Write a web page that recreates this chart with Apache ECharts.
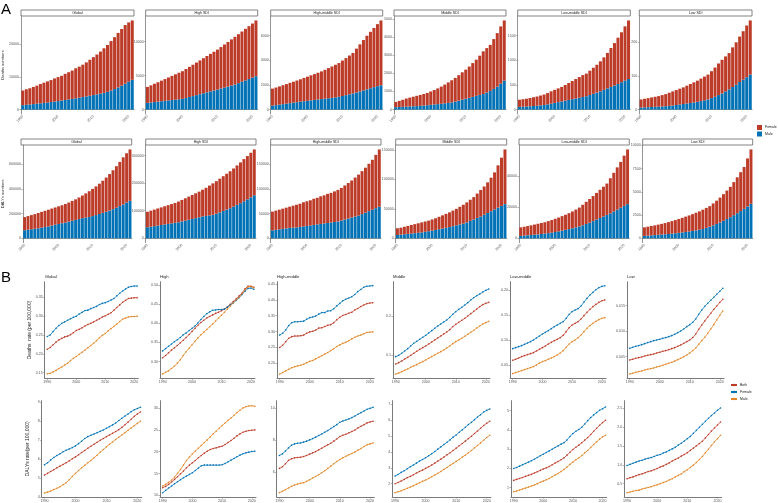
<!DOCTYPE html>
<html>
<head>
<meta charset="utf-8">
<script src="https://cdn.jsdelivr.net/npm/echarts@6/dist/echarts.min.js"></script>
<style>html,body{margin:0;padding:0;background:#fff}#main{width:778px;height:503px}</style>
</head>
<body>
<div id="main"></div>
<script>
var years = [1990, 1991, 1992, 1993, 1994, 1995, 1996, 1997, 1998, 1999, 2000, 2001, 2002, 2003, 2004, 2005,
  2006, 2007, 2008, 2009, 2010, 2011, 2012, 2013, 2014, 2015, 2016, 2017, 2018, 2019, 2020, 2021];
var regionsA = ['Global', 'High SDI', 'High-middle SDI', 'Middle SDI', 'Low-middle SDI', 'Low SDI'];
var regionsB = ['Global', 'High', 'High-middle', 'Middle', 'Low-middle', 'Low'];

// --- A: deaths numbers (total = top of the stack, male = blue part) ---
var deathsGlobalTotal = [5800, 6200, 6500, 6900, 7300, 7800, 8200, 8600, 9000, 9500, 9900, 10300, 10900, 11400, 11900, 12600, 13100, 13700, 14400, 15200, 16000, 16800, 17700, 18700, 19700, 20900, 22100, 23400, 24600, 25800, 26600, 27200];
var deathsGlobalMale = [1330, 1440, 1550, 1660, 1780, 1900, 2030, 2160, 2300, 2440, 2590, 2750, 2910, 3080, 3250, 3430, 3620, 3810, 4010, 4210, 4420, 4640, 4860, 5090, 5400, 5800, 6250, 6750, 7300, 7900, 8500, 9080];
var deathsHighTotal = [3330, 3560, 3790, 4020, 4250, 4480, 4720, 4950, 5180, 5410, 5640, 5960, 6280, 6590, 6910, 7230, 7550, 7870, 8190, 8500, 8820, 9190, 9570, 9940, 10320, 10690, 11080, 11470, 11870, 12260, 12650, 13100];
var deathsHighMale = [980, 1040, 1100, 1160, 1220, 1280, 1340, 1400, 1450, 1510, 1570, 1710, 1850, 1980, 2120, 2260, 2390, 2530, 2670, 2800, 2940, 3090, 3240, 3380, 3530, 3680, 3880, 4090, 4290, 4490, 4700, 4900];
var deathsHMTotal = [1700, 1790, 1880, 1980, 2070, 2170, 2260, 2360, 2460, 2570, 2670, 2780, 2880, 2990, 3100, 3230, 3370, 3500, 3640, 3780, 3980, 4180, 4390, 4600, 4950, 5300, 5650, 6000, 6320, 6630, 6940, 7240];
var deathsHMMale = [320, 360, 400, 440, 480, 520, 560, 600, 640, 680, 710, 750, 780, 820, 850, 880, 920, 950, 990, 1030, 1100, 1170, 1240, 1310, 1390, 1470, 1550, 1640, 1730, 1820, 1900, 1970];
var deathsMidTotal = [420, 480, 540, 610, 660, 710, 760, 810, 860, 920, 1000, 1080, 1170, 1270, 1380, 1500, 1620, 1750, 1900, 2060, 2210, 2380, 2570, 2760, 2980, 3220, 3400, 3580, 3900, 4230, 4600, 4930];
var deathsMidMale = [130, 140, 150, 160, 170, 180, 190, 205, 220, 240, 260, 280, 300, 320, 345, 370, 400, 440, 490, 550, 600, 650, 700, 760, 810, 860, 940, 1030, 1140, 1270, 1430, 1600];
var deathsLMTotal = [200, 210, 220, 235, 250, 265, 285, 305, 335, 370, 400, 430, 460, 500, 540, 580, 620, 660, 700, 730, 790, 850, 910, 980, 1060, 1150, 1250, 1350, 1460, 1570, 1690, 1810];
var deathsLMMale = [54, 58, 62, 67, 72, 78, 85, 93, 105, 120, 135, 150, 165, 180, 195, 210, 225, 240, 255, 270, 295, 320, 345, 370, 400, 430, 460, 490, 520, 555, 590, 620];
var deathsLowTotal = [30, 32, 34, 36, 38, 40, 43, 46, 50, 54, 58, 62, 66, 71, 76, 81, 86, 92, 98, 104, 114, 125, 137, 148, 158, 168, 185, 200, 217, 233, 250, 265];
var deathsLowMale = [6, 6.5, 7, 7.5, 8, 8.5, 9, 10, 11, 12, 13.5, 15, 16.5, 18, 19.5, 21, 23, 25, 27.5, 30, 34, 38, 43, 48, 54, 60, 67, 74, 82, 89, 96, 104];

// --- A: DALYs numbers ---
var dalysGlobalTotal = [172000, 180000, 188000, 196000, 205000, 214000, 223000, 232000, 241000, 250000, 259000, 268000, 278000, 290000, 303000, 316000, 331000, 347000, 364000, 382000, 401000, 421000, 443000, 467000, 493000, 521000, 552000, 585000, 620000, 657000, 690000, 721000];
var dalysGlobalMale = [65000, 69000, 73000, 77000, 81000, 86000, 91000, 96000, 103000, 110000, 116000, 122000, 128000, 135000, 142000, 149000, 156000, 163000, 168000, 172000, 180000, 188000, 197000, 206000, 215000, 225000, 236000, 248000, 261000, 275000, 290000, 304000];
var dalysHighTotal = [96000, 100000, 104000, 108000, 112000, 116000, 120000, 124000, 128000, 133000, 139000, 145000, 151000, 157000, 163000, 169000, 176000, 183000, 191000, 199000, 207000, 216000, 225000, 234000, 243000, 253000, 264000, 275000, 287000, 298000, 310000, 322000];
var dalysHighMale = [40000, 42000, 44000, 46000, 48000, 50000, 52000, 54000, 56000, 58000, 61000, 64000, 67000, 70000, 73000, 76000, 79000, 81000, 83000, 85000, 89000, 94000, 99000, 104000, 109000, 115000, 121000, 127000, 134000, 141000, 148000, 156000];
var dalysHMTotal = [54000, 56000, 58000, 60000, 62000, 64000, 66000, 68000, 70000, 73000, 75000, 77000, 80000, 82000, 85000, 87000, 90000, 92000, 95000, 98000, 102000, 107000, 112000, 117000, 123000, 129000, 136000, 143000, 151000, 159000, 169000, 180000];
var dalysHMMale = [16000, 17000, 18000, 19000, 20000, 21000, 21500, 22000, 23000, 24000, 25000, 26000, 27000, 28000, 29000, 30000, 31000, 32000, 33000, 34000, 36000, 38000, 40000, 42000, 44000, 46000, 49000, 52000, 55000, 58000, 61000, 64000];
var dalysMidTotal = [17000, 18000, 19500, 21000, 22500, 24000, 25500, 27000, 28500, 30000, 32000, 34000, 36500, 39000, 41500, 44000, 47000, 50000, 53500, 57000, 61000, 65500, 70000, 76000, 82000, 88000, 95000, 103000, 112000, 124000, 137000, 151000];
var dalysMidMale = [5600, 6200, 6800, 7400, 8000, 8600, 9300, 10000, 11000, 12000, 13000, 14200, 15400, 16600, 17800, 19000, 20500, 22000, 23500, 25000, 27000, 29500, 32000, 34500, 37000, 40000, 43000, 46000, 49000, 52000, 55000, 58000];
var dalysLMTotal = [7000, 7400, 7800, 8300, 8800, 9300, 9800, 10300, 11000, 11700, 12500, 13300, 14200, 15100, 16100, 17200, 18400, 19700, 21500, 23400, 25200, 27100, 29100, 31100, 33100, 35100, 38500, 42000, 45500, 49000, 53000, 57000];
var dalysLMMale = [1500, 1700, 1900, 2100, 2300, 2500, 2750, 3000, 3300, 3600, 4000, 4400, 4900, 5400, 5900, 6400, 7000, 7600, 8300, 9150, 10000, 11000, 12000, 13000, 14000, 15000, 16000, 17200, 18400, 19600, 20800, 21900];
var dalysLowTotal = [1180, 1250, 1320, 1390, 1470, 1550, 1640, 1740, 1850, 1960, 2080, 2200, 2330, 2460, 2600, 2750, 2900, 3080, 3270, 3460, 3750, 4050, 4380, 4750, 5140, 5540, 6050, 6570, 7120, 7680, 8600, 9570];
var dalysLowMale = [250, 280, 310, 340, 370, 400, 430, 460, 500, 540, 580, 630, 680, 730, 790, 850, 920, 1000, 1120, 1250, 1390, 1540, 1700, 1880, 2070, 2270, 2480, 2700, 2930, 3170, 3430, 3710];

var deathsTicks = [[0, 10000, 20000], [0, 5000, 10000], [0, 2000, 4000, 6000], [0, 1000, 2000, 3000, 4000, 5000], [0, 500, 1000, 1500], [0, 100, 200]];
var dalysTicks = [[0, 200000, 400000, 600000], [0, 100000, 200000, 300000], [0, 50000, 100000, 150000], [0, 50000, 100000, 150000], [0, 20000, 40000], [0, 2500, 5000, 7500, 10000]];

// --- B: deaths rate (per 100,000) ---
var drGlobalBoth = [0.212, 0.217, 0.224, 0.231, 0.237, 0.241, 0.245, 0.247, 0.251, 0.256, 0.262, 0.265, 0.269, 0.274, 0.278, 0.281, 0.285, 0.289, 0.293, 0.298, 0.301, 0.305, 0.309, 0.316, 0.323, 0.330, 0.337, 0.342, 0.347, 0.348, 0.349, 0.349];
var drGlobalFemale = [0.246, 0.250, 0.259, 0.268, 0.275, 0.281, 0.285, 0.289, 0.293, 0.297, 0.300, 0.306, 0.310, 0.315, 0.316, 0.320, 0.323, 0.326, 0.331, 0.334, 0.336, 0.339, 0.343, 0.347, 0.354, 0.361, 0.367, 0.372, 0.377, 0.379, 0.380, 0.380];
var drGlobalMale = [0.147, 0.148, 0.152, 0.156, 0.161, 0.165, 0.170, 0.175, 0.182, 0.188, 0.193, 0.199, 0.204, 0.210, 0.216, 0.222, 0.228, 0.235, 0.243, 0.249, 0.254, 0.261, 0.267, 0.273, 0.279, 0.286, 0.292, 0.295, 0.298, 0.299, 0.299, 0.300];
var drHighBoth = [0.310, 0.316, 0.323, 0.330, 0.336, 0.342, 0.349, 0.356, 0.363, 0.371, 0.379, 0.387, 0.395, 0.402, 0.408, 0.414, 0.418, 0.422, 0.426, 0.429, 0.433, 0.437, 0.443, 0.450, 0.457, 0.464, 0.472, 0.479, 0.490, 0.497, 0.497, 0.494];
var drHighFemale = [0.328, 0.334, 0.340, 0.346, 0.352, 0.357, 0.363, 0.370, 0.375, 0.381, 0.387, 0.393, 0.401, 0.410, 0.418, 0.425, 0.430, 0.434, 0.435, 0.436, 0.436, 0.437, 0.442, 0.448, 0.453, 0.460, 0.467, 0.475, 0.484, 0.491, 0.492, 0.489];
var drHighMale = [0.268, 0.272, 0.276, 0.282, 0.288, 0.296, 0.305, 0.316, 0.326, 0.335, 0.344, 0.353, 0.362, 0.370, 0.377, 0.384, 0.391, 0.398, 0.406, 0.414, 0.421, 0.429, 0.437, 0.445, 0.453, 0.461, 0.468, 0.477, 0.487, 0.495, 0.496, 0.493];
var drHMBoth = [0.250, 0.257, 0.268, 0.279, 0.284, 0.286, 0.286, 0.287, 0.289, 0.295, 0.299, 0.301, 0.305, 0.311, 0.312, 0.316, 0.320, 0.322, 0.328, 0.337, 0.345, 0.351, 0.354, 0.358, 0.361, 0.368, 0.373, 0.379, 0.384, 0.388, 0.390, 0.391];
var drHMFemale = [0.289, 0.295, 0.305, 0.319, 0.328, 0.331, 0.331, 0.332, 0.333, 0.339, 0.344, 0.346, 0.349, 0.355, 0.360, 0.360, 0.365, 0.366, 0.372, 0.381, 0.389, 0.397, 0.402, 0.406, 0.410, 0.417, 0.426, 0.433, 0.440, 0.443, 0.444, 0.445];
var drHMMale = [0.166, 0.171, 0.176, 0.181, 0.186, 0.189, 0.192, 0.194, 0.197, 0.202, 0.206, 0.209, 0.214, 0.219, 0.224, 0.229, 0.234, 0.240, 0.246, 0.253, 0.258, 0.263, 0.266, 0.271, 0.277, 0.282, 0.286, 0.289, 0.293, 0.297, 0.298, 0.299];
var drMidBoth = [0.0769, 0.0803, 0.0846, 0.0897, 0.0940, 0.0991, 0.1043, 0.1094, 0.1145, 0.1188, 0.1231, 0.1282, 0.1333, 0.1385, 0.1436, 0.1487, 0.1538, 0.1590, 0.1650, 0.1726, 0.1786, 0.1838, 0.1889, 0.1940, 0.2000, 0.2060, 0.2120, 0.2179, 0.2239, 0.2291, 0.2325, 0.2350];
var drMidFemale = [0.0957, 0.0991, 0.1043, 0.1103, 0.1162, 0.1231, 0.1299, 0.1350, 0.1402, 0.1453, 0.1504, 0.1564, 0.1624, 0.1684, 0.1744, 0.1795, 0.1846, 0.1897, 0.1966, 0.2043, 0.2111, 0.2171, 0.2222, 0.2282, 0.2342, 0.2410, 0.2470, 0.2521, 0.2564, 0.2615, 0.2658, 0.2692];
var drMidMale = [0.0513, 0.0538, 0.0573, 0.0607, 0.0641, 0.0684, 0.0718, 0.0752, 0.0795, 0.0829, 0.0872, 0.0915, 0.0957, 0.1000, 0.1043, 0.1085, 0.1128, 0.1179, 0.1231, 0.1291, 0.1342, 0.1385, 0.1427, 0.1479, 0.1530, 0.1581, 0.1632, 0.1692, 0.1744, 0.1795, 0.1829, 0.1863];
var drLMBoth = [0.0593, 0.0613, 0.0640, 0.0667, 0.0687, 0.0707, 0.0727, 0.0747, 0.0780, 0.0813, 0.0847, 0.0880, 0.0920, 0.0953, 0.0987, 0.1013, 0.1047, 0.1093, 0.1167, 0.1247, 0.1300, 0.1333, 0.1367, 0.1420, 0.1487, 0.1553, 0.1613, 0.1667, 0.1713, 0.1753, 0.1787, 0.1800];
var drLMFemale = [0.0827, 0.0847, 0.0867, 0.0887, 0.0913, 0.0940, 0.0967, 0.1000, 0.1040, 0.1080, 0.1120, 0.1153, 0.1187, 0.1227, 0.1267, 0.1300, 0.1333, 0.1367, 0.1433, 0.1513, 0.1567, 0.1600, 0.1627, 0.1680, 0.1760, 0.1833, 0.1900, 0.1953, 0.2007, 0.2047, 0.2073, 0.2087];
var drLMMale = [0.0327, 0.0347, 0.0367, 0.0387, 0.0407, 0.0427, 0.0447, 0.0467, 0.0500, 0.0540, 0.0567, 0.0587, 0.0613, 0.0640, 0.0667, 0.0700, 0.0740, 0.0787, 0.0853, 0.0920, 0.0967, 0.1000, 0.1047, 0.1100, 0.1167, 0.1233, 0.1287, 0.1333, 0.1373, 0.1407, 0.1433, 0.1447];
var drLowBoth = [0.00435, 0.00448, 0.00467, 0.00480, 0.00493, 0.00513, 0.00526, 0.00539, 0.00552, 0.00572, 0.00585, 0.00605, 0.00618, 0.00637, 0.00657, 0.00676, 0.00703, 0.00729, 0.00761, 0.00794, 0.00827, 0.00873, 0.00944, 0.01036, 0.01121, 0.01199, 0.01278, 0.01350, 0.01428, 0.01493, 0.01565, 0.01624];
var drLowFemale = [0.00663, 0.00683, 0.00703, 0.00716, 0.00735, 0.00755, 0.00775, 0.00794, 0.00814, 0.00827, 0.00840, 0.00859, 0.00873, 0.00892, 0.00912, 0.00938, 0.00971, 0.01003, 0.01042, 0.01088, 0.01127, 0.01173, 0.01239, 0.01330, 0.01415, 0.01487, 0.01546, 0.01605, 0.01663, 0.01722, 0.01781, 0.01840];
var drLowMale = [0.00160, 0.00173, 0.00193, 0.00206, 0.00219, 0.00239, 0.00252, 0.00265, 0.00278, 0.00297, 0.00310, 0.00330, 0.00350, 0.00369, 0.00389, 0.00415, 0.00441, 0.00467, 0.00500, 0.00533, 0.00572, 0.00618, 0.00670, 0.00742, 0.00814, 0.00879, 0.00958, 0.01042, 0.01127, 0.01219, 0.01310, 0.01395];

// --- B: DALYs rate (per 100,000) ---
var yrGlobalBoth = [5.16, 5.25, 5.35, 5.44, 5.54, 5.63, 5.72, 5.81, 5.91, 6.02, 6.12, 6.23, 6.35, 6.46, 6.58, 6.68, 6.79, 6.89, 7.00, 7.09, 7.19, 7.28, 7.37, 7.46, 7.56, 7.68, 7.82, 7.96, 8.11, 8.26, 8.39, 8.49];
var yrGlobalFemale = [5.70, 5.81, 5.95, 6.09, 6.19, 6.28, 6.39, 6.47, 6.54, 6.61, 6.70, 6.82, 6.95, 7.09, 7.19, 7.26, 7.33, 7.40, 7.47, 7.54, 7.63, 7.72, 7.81, 7.91, 8.04, 8.16, 8.28, 8.39, 8.51, 8.61, 8.68, 8.74];
var yrGlobalMale = [4.21, 4.26, 4.32, 4.39, 4.46, 4.54, 4.65, 4.75, 4.91, 5.09, 5.25, 5.40, 5.54, 5.67, 5.81, 5.93, 6.07, 6.21, 6.37, 6.51, 6.65, 6.79, 6.91, 7.04, 7.16, 7.28, 7.40, 7.53, 7.65, 7.77, 7.89, 8.00];
var yrHighBoth = [11.75, 12.05, 12.51, 13.04, 13.65, 14.26, 14.94, 15.55, 16.31, 16.92, 17.45, 17.98, 18.59, 19.13, 19.66, 20.11, 20.49, 20.72, 20.87, 21.10, 21.25, 21.63, 22.09, 22.55, 23.08, 23.61, 24.07, 24.45, 24.68, 24.83, 24.90, 24.98];
var yrHighFemale = [10.61, 11.14, 11.67, 12.13, 12.66, 13.12, 13.57, 14.03, 14.41, 14.79, 15.17, 15.70, 16.24, 16.77, 16.92, 16.92, 16.92, 16.92, 16.92, 16.92, 17.00, 17.30, 17.68, 18.06, 18.44, 18.82, 19.20, 19.51, 19.73, 19.89, 20.04, 20.11];
var yrHighMale = [12.13, 12.51, 12.97, 13.50, 14.18, 15.02, 15.93, 16.92, 17.98, 18.75, 19.51, 20.11, 20.80, 21.41, 22.09, 22.70, 23.38, 24.07, 24.68, 25.36, 25.97, 26.58, 27.19, 27.72, 28.33, 28.94, 29.47, 30.00, 30.30, 30.46, 30.53, 30.38];
var yrHMBoth = [6.23, 6.33, 6.52, 6.73, 6.83, 6.89, 6.91, 6.93, 6.97, 7.04, 7.12, 7.20, 7.28, 7.39, 7.49, 7.60, 7.70, 7.80, 7.93, 8.07, 8.22, 8.30, 8.36, 8.45, 8.53, 8.63, 8.76, 8.86, 8.96, 9.07, 9.13, 9.17];
var yrHMFemale = [7.04, 7.14, 7.31, 7.51, 7.68, 7.76, 7.80, 7.82, 7.87, 7.93, 8.01, 8.09, 8.18, 8.28, 8.38, 8.49, 8.59, 8.72, 8.84, 8.96, 9.11, 9.19, 9.25, 9.32, 9.40, 9.50, 9.61, 9.71, 9.81, 9.92, 9.98, 10.04];
var yrHMMale = [4.72, 4.80, 4.90, 5.01, 5.11, 5.19, 5.25, 5.30, 5.34, 5.42, 5.52, 5.63, 5.73, 5.83, 5.96, 6.08, 6.23, 6.37, 6.52, 6.66, 6.79, 6.89, 6.99, 7.08, 7.16, 7.26, 7.37, 7.47, 7.60, 7.70, 7.76, 7.82];
var yrMidBoth = [2.00, 2.08, 2.17, 2.27, 2.38, 2.46, 2.56, 2.67, 2.77, 2.85, 2.96, 3.06, 3.17, 3.29, 3.42, 3.54, 3.67, 3.81, 3.94, 4.08, 4.23, 4.38, 4.52, 4.67, 4.83, 4.98, 5.15, 5.31, 5.48, 5.65, 5.79, 5.92];
var yrMidFemale = [2.48, 2.58, 2.71, 2.81, 2.94, 3.06, 3.17, 3.29, 3.42, 3.52, 3.63, 3.75, 3.88, 4.02, 4.17, 4.31, 4.46, 4.60, 4.75, 4.92, 5.06, 5.23, 5.38, 5.54, 5.71, 5.85, 6.02, 6.19, 6.33, 6.50, 6.60, 6.69];
var yrMidMale = [1.44, 1.50, 1.56, 1.63, 1.71, 1.79, 1.88, 1.96, 2.06, 2.15, 2.23, 2.33, 2.44, 2.54, 2.65, 2.77, 2.90, 3.02, 3.15, 3.27, 3.40, 3.52, 3.67, 3.79, 3.94, 4.08, 4.25, 4.40, 4.56, 4.73, 4.90, 5.04];
var yrLMBoth = [1.38, 1.43, 1.48, 1.53, 1.59, 1.64, 1.69, 1.76, 1.83, 1.90, 1.97, 2.03, 2.10, 2.19, 2.28, 2.36, 2.45, 2.55, 2.69, 2.84, 2.98, 3.10, 3.21, 3.33, 3.47, 3.60, 3.76, 3.93, 4.09, 4.24, 4.38, 4.50];
var yrLMFemale = [2.00, 2.05, 2.12, 2.19, 2.26, 2.33, 2.40, 2.48, 2.57, 2.66, 2.74, 2.83, 2.91, 3.00, 3.09, 3.17, 3.26, 3.34, 3.48, 3.66, 3.81, 3.93, 4.02, 4.14, 4.31, 4.48, 4.64, 4.78, 4.90, 5.02, 5.10, 5.19];
var yrLMMale = [0.79, 0.83, 0.88, 0.93, 0.98, 1.03, 1.09, 1.14, 1.21, 1.28, 1.34, 1.41, 1.48, 1.57, 1.66, 1.74, 1.84, 1.95, 2.07, 2.21, 2.33, 2.45, 2.55, 2.67, 2.81, 2.93, 3.09, 3.24, 3.38, 3.52, 3.64, 3.72];
var yrLowBoth = [0.63, 0.66, 0.68, 0.71, 0.74, 0.76, 0.79, 0.82, 0.84, 0.87, 0.90, 0.94, 0.97, 1.01, 1.05, 1.10, 1.14, 1.18, 1.23, 1.27, 1.32, 1.38, 1.44, 1.50, 1.56, 1.62, 1.71, 1.80, 1.89, 1.97, 2.05, 2.13];
var yrLowFemale = [0.98, 1.01, 1.04, 1.07, 1.10, 1.12, 1.15, 1.17, 1.19, 1.22, 1.25, 1.27, 1.31, 1.34, 1.38, 1.42, 1.46, 1.52, 1.57, 1.63, 1.69, 1.75, 1.83, 1.91, 1.99, 2.07, 2.15, 2.23, 2.30, 2.37, 2.44, 2.50];
var yrLowMale = [0.26, 0.28, 0.30, 0.32, 0.33, 0.36, 0.38, 0.40, 0.42, 0.45, 0.47, 0.50, 0.53, 0.56, 0.60, 0.63, 0.68, 0.72, 0.76, 0.82, 0.87, 0.93, 0.99, 1.06, 1.14, 1.22, 1.32, 1.41, 1.51, 1.61, 1.69, 1.78];

var deathsRateTicks = [[0.15, 0.2, 0.25, 0.3, 0.35], [0.3, 0.35, 0.4, 0.45, 0.5], [0.2, 0.25, 0.3, 0.35, 0.4, 0.45], [0.1, 0.2], [0.05, 0.1, 0.15, 0.2], [0.005, 0.01, 0.015]];
var dalysRateTicks = [[4, 5, 6, 7, 8, 9], [10, 15, 20, 25, 30], [6, 8, 10], [2, 3, 4, 5, 6, 7], [1, 2, 3, 4, 5], [0.5, 1, 1.5, 2, 2.5]];
var yearTicks = [1990, 2000, 2010, 2020];

// --- layout (pixels) ---
var FONT = 'Liberation Sans, Arial, sans-serif';
var RED = '#BC3C29', BLUE = '#0072B5', ORANGE = '#E18727';
var axisGray = '#7a7a7a', labelGray = '#555';
var aTopBoxes = [[21, 113], [145.7, 112], [270.7, 112], [394, 112], [517.7, 112.6], [639.3, 112.7]];
var aBotBoxes = [[21, 110.7], [145.7, 110.3], [270.7, 110.3], [395.7, 111], [519, 110.3], [642.7, 110]];
var bTopBoxes = [[44.7, 93.6], [160, 95], [277, 97], [393, 97], [510, 96], [627, 97]];
var bBotBoxes = [[41.7, 100], [160, 96], [276.7, 97.6], [392.3, 98.7], [511, 95.7], [624.3, 97.4]];
var bDeathsRange = [[0.135, 0.3916], [0.2565, 0.5087], [0.1527, 0.4574], [0.0402, 0.288], [0.0233, 0.2167], [0.00075, 0.0197]];
var bDalysRange = [[4.0, 9.09], [9.62, 31.67], [4.446, 10.456], [1.167, 7.208], [0.517, 5.517], [0.149, 2.693]];

var chart = echarts.init(document.getElementById('main'));
var grid = [], xAxis = [], yAxis = [], series = [], graphic = [];

function decade(i, v) { return Number(v) % 10 === 0; }
function txt(x, y, s, size, opt) {
  opt = opt || {};
  graphic.push({
    type: 'text', x: x, y: y, rotation: opt.rot || 0, silent: true,
    style: { text: s, fill: opt.color || '#222', font: (opt.weight || 'normal') + ' ' + size + 'px ' + FONT,
      align: opt.align || 'center', verticalAlign: 'middle', textAlign: opt.align || 'center', textVerticalAlign: 'middle' }
  });
}

function barPanel(box, top, h, male, total, ticks, name, yName) {
  var gi = grid.length;
  var female = total.map(function (t, i) { return t - male[i]; });
  var m = Math.max.apply(null, total);
  grid.push({ left: box[0], top: top, width: box[1], height: h });
  xAxis.push({
    gridIndex: gi, type: 'category', data: years,
    axisLine: { lineStyle: { color: axisGray, width: 0.8 } },
    axisTick: { interval: decade, alignWithLabel: true, length: 1.5, lineStyle: { color: axisGray, width: 0.6 } },
    axisLabel: { interval: decade, rotate: 45, fontSize: 3.6, color: labelGray, margin: 2, fontFamily: FONT }
  });
  yAxis.push({
    gridIndex: gi, type: 'value', min: -0.05 * m, max: 1.05 * m, splitLine: { show: false },
    name: yName || '', nameLocation: 'middle', nameGap: 13, nameRotate: 90,
    nameTextStyle: { fontSize: 4, color: '#222', fontFamily: FONT },
    axisLine: { show: true, lineStyle: { color: axisGray, width: 0.8 } },
    axisTick: { show: true, customValues: ticks, length: 1.5, lineStyle: { color: axisGray, width: 0.6 } },
    axisLabel: { customValues: ticks, fontSize: 3.6, color: labelGray, margin: 2, fontFamily: FONT,
      formatter: function (v) { return String(v); } }
  });
  series.push({ type: 'bar', name: 'Male', xAxisIndex: gi, yAxisIndex: gi, stack: 's' + gi, data: male,
    barCategoryGap: '14%', itemStyle: { color: BLUE } });
  series.push({ type: 'bar', name: 'Female', xAxisIndex: gi, yAxisIndex: gi, stack: 's' + gi, data: female,
    barCategoryGap: '14%', itemStyle: { color: RED } });
  graphic.push({ type: 'rect', silent: true, shape: { x: box[0], y: top - 6, width: box[1], height: 6 },
    style: { fill: '#fff', stroke: '#666', lineWidth: 0.8 } });
  txt(box[0] + box[1] / 2, top - 3, name, 3.6);
}

function linePanel(box, top, h, range, ticks, lines, title, yName, dec) {
  var gi = grid.length;
  grid.push({ left: box[0], top: top, width: box[1], height: h });
  xAxis.push({
    gridIndex: gi, type: 'value', min: 1989.1, max: 2021.4, splitLine: { show: false },
    axisLine: { lineStyle: { color: axisGray, width: 1 } },
    axisTick: { customValues: yearTicks, length: 1.5, lineStyle: { color: axisGray, width: 0.6 } },
    axisLabel: { customValues: yearTicks, fontSize: 3.6, color: labelGray, margin: 2, fontFamily: FONT,
      formatter: function (v) { return String(v); } }
  });
  yAxis.push({
    gridIndex: gi, type: 'value', min: range[0], max: range[1], splitLine: { show: false },
    name: yName || '', nameLocation: 'middle', nameGap: 12, nameRotate: 90,
    nameTextStyle: { fontSize: 5, color: '#222', fontFamily: FONT },
    axisLine: { show: true, lineStyle: { color: axisGray, width: 1 } },
    axisTick: { show: true, customValues: ticks, length: 1.5, lineStyle: { color: axisGray, width: 0.6 } },
    axisLabel: { customValues: ticks, fontSize: 3.6, color: labelGray, margin: 2, fontFamily: FONT,
      formatter: function (v) { return v.toFixed(dec); } }
  });
  lines.forEach(function (ln) {
    series.push({ type: 'line', name: ln[0], xAxisIndex: gi, yAxisIndex: gi,
      data: years.map(function (yr, i) { return [yr, ln[2][i]]; }),
      symbol: 'circle', symbolSize: 1.6, showSymbol: true,
      lineStyle: { color: ln[1], width: 0.8 }, itemStyle: { color: ln[1] } });
  });
  if (title) txt(box[0], top - 5, title, 4.2, { align: 'left' });
}

var deathsSets = [[deathsGlobalMale, deathsGlobalTotal], [deathsHighMale, deathsHighTotal], [deathsHMMale, deathsHMTotal],
  [deathsMidMale, deathsMidTotal], [deathsLMMale, deathsLMTotal], [deathsLowMale, deathsLowTotal]];
var dalysSets = [[dalysGlobalMale, dalysGlobalTotal], [dalysHighMale, dalysHighTotal], [dalysHMMale, dalysHMTotal],
  [dalysMidMale, dalysMidTotal], [dalysLMMale, dalysLMTotal], [dalysLowMale, dalysLowTotal]];

for (var i = 0; i < 6; i++) {
  barPanel(aTopBoxes[i], 16, 98, deathsSets[i][0], deathsSets[i][1], deathsTicks[i], regionsA[i], i === 0 ? 'Deaths numbers' : '');
}
for (var j = 0; j < 6; j++) {
  barPanel(aBotBoxes[j], 145, 97.7, dalysSets[j][0], dalysSets[j][1], dalysTicks[j], regionsA[j], j === 0 ? 'DALYs numbers' : '');
}

function trio(b, f, m) { return [['Both', RED, b], ['Female ', BLUE, f], ['Male ', ORANGE, m]]; }
var deathsRateLines = [trio(drGlobalBoth, drGlobalFemale, drGlobalMale), trio(drHighBoth, drHighFemale, drHighMale),
  trio(drHMBoth, drHMFemale, drHMMale), trio(drMidBoth, drMidFemale, drMidMale),
  trio(drLMBoth, drLMFemale, drLMMale), trio(drLowBoth, drLowFemale, drLowMale)];
var dalysRateLines = [trio(yrGlobalBoth, yrGlobalFemale, yrGlobalMale), trio(yrHighBoth, yrHighFemale, yrHighMale),
  trio(yrHMBoth, yrHMFemale, yrHMMale), trio(yrMidBoth, yrMidFemale, yrMidMale),
  trio(yrLMBoth, yrLMFemale, yrLMMale), trio(yrLowBoth, yrLowFemale, yrLowMale)];
var deathsDec = [2, 2, 2, 1, 2, 3];
var dalysDec = [0, 0, 0, 0, 0, 1];
for (var k = 0; k < 6; k++) {
  linePanel(bTopBoxes[k], 281.7, 96.6, bDeathsRange[k], deathsRateTicks[k], deathsRateLines[k], regionsB[k],
    k === 0 ? 'Deaths  rate (per 100,000)' : '', deathsDec[k]);
}
for (var n = 0; n < 6; n++) {
  linePanel(bBotBoxes[n], 400.7, 96.6, bDalysRange[n], dalysRateTicks[n], dalysRateLines[n], '',
    n === 0 ? 'DALYs rate(per 100,000)' : '', dalysDec[n]);
}

txt(6, 10, 'A', 15, { color: '#000' });
txt(6, 278, 'B', 15, { color: '#000' });

chart.setOption({
  animation: false,
  textStyle: { fontFamily: FONT },
  grid: grid, xAxis: xAxis, yAxis: yAxis, series: series, graphic: graphic,
  legend: [
    { left: 757, top: 125, orient: 'vertical', data: ['Female', 'Male'], icon: 'rect', itemWidth: 5, itemHeight: 5,
      itemGap: 1.5, textStyle: { fontSize: 3.5, color: '#222', padding: [0, 0, 0, -2] }, padding: 0 },
    { left: 730, top: 383, orient: 'vertical', data: ['Both', 'Female ', 'Male '], itemWidth: 6, itemHeight: 3,
      itemGap: 3, textStyle: { fontSize: 3.5, color: '#222', padding: [0, 0, 0, -2] }, padding: 0 }
  ]
});
</script>
</body>
</html>
